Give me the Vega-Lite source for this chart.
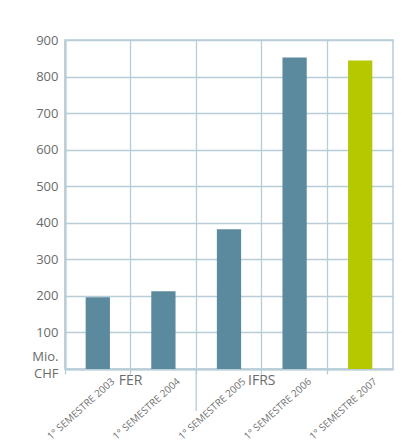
{
  "$schema": "https://vega.github.io/schema/vega-lite/v6.json",
  "width": 328,
  "height": 329,
  "autosize": "none",
  "padding": {"left": 65, "top": 40, "right": 15, "bottom": 74},
  "background": "white",
  "config": {
    "font": "Open Sans",
    "view": {"stroke": "#b8cdd8", "strokeWidth": 1.5},
    "axis": {"labelFont": "Open Sans", "labelColor": "#6b6b6b", "gridColor": "#b8cdd8", "gridWidth": 1.3, "gridOpacity": 1, "domainColor": "#b8cdd8", "tickColor": "#b8cdd8", "title": null}
  },
  "datasets": {
    "bars": [
      {"period": "1° SEMESTRE 2003", "value": 196, "kind": "past"},
      {"period": "1° SEMESTRE 2004", "value": 213, "kind": "past"},
      {"period": "1° SEMESTRE 2005", "value": 382, "kind": "past"},
      {"period": "1° SEMESTRE 2006", "value": 852, "kind": "past"},
      {"period": "1° SEMESTRE 2007", "value": 844, "kind": "current"}
    ],
    "notes": [
      {"period": "1° SEMESTRE 2004", "label": "FER", "pos": -33},
      {"period": "1° SEMESTRE 2006", "label": "IFRS", "pos": -33}
    ],
    "sep": [
      {"period": "1° SEMESTRE 2005", "from": 0, "to": -115}
    ]
  },
  "resolve": {"axis": {"x": "independent", "y": "independent"}, "scale": {"x": "shared", "y": "shared"}},
  "layer": [
    {
      "data": {"name": "bars"},
      "mark": {"type": "bar", "width": {"band": 0.37}},
      "encoding": {
        "x": {
          "field": "period", "type": "nominal", "sort": null,
          "scale": {"paddingInner": 0, "paddingOuter": 0},
          "axis": {"bandPosition": 0, "grid": true, "ticks": true, "tickSize": 5, "tickWidth": 1.3, "domainWidth": 2, "labelAngle": -42, "labelAlign": "right", "labelBaseline": "top", "labelFontSize": 10, "labelOffset": 12, "labelPadding": 2, "labelOverlap": false, "labelColor": "#707070"}
        },
        "y": {
          "field": "value", "type": "quantitative",
          "scale": {"domain": [0, 900], "nice": false},
          "axis": {"values": [0, 100, 200, 300, 400, 500, 600, 700, 800, 900], "grid": true, "ticks": false, "domainWidth": 2.2, "labelFontSize": 13, "labelPadding": 7, "labelLineHeight": 17, "labelOverlap": false, "labelOffset": {"condition": {"test": "datum.value == 0", "value": -13}, "value": 0}, "labelExpr": "datum.value == 0 ? ['Mio.', 'CHF'] : datum.label"}
        },
        "color": {"field": "kind", "type": "nominal", "scale": {"domain": ["past", "current"], "range": ["#5b8a9f", "#b5c800"]}, "legend": null}
      }
    },
    {
      "data": {"name": "sep"},
      "mark": {"type": "rule", "color": "#b8cdd8", "strokeWidth": 1.3},
      "encoding": {
        "x": {"field": "period", "type": "nominal", "bandPosition": 0, "sort": null, "axis": null},
        "y": {"field": "from", "type": "quantitative", "axis": null},
        "y2": {"field": "to"}
      }
    },
    {
      "data": {"name": "notes"},
      "mark": {"type": "text", "fontSize": 14, "color": "#6b6b6b", "baseline": "middle", "align": "center"},
      "encoding": {
        "x": {"field": "period", "type": "nominal", "bandPosition": 0, "sort": null, "axis": null},
        "y": {"field": "pos", "type": "quantitative", "axis": null},
        "text": {"field": "label"}
      }
    }
  ]
}
